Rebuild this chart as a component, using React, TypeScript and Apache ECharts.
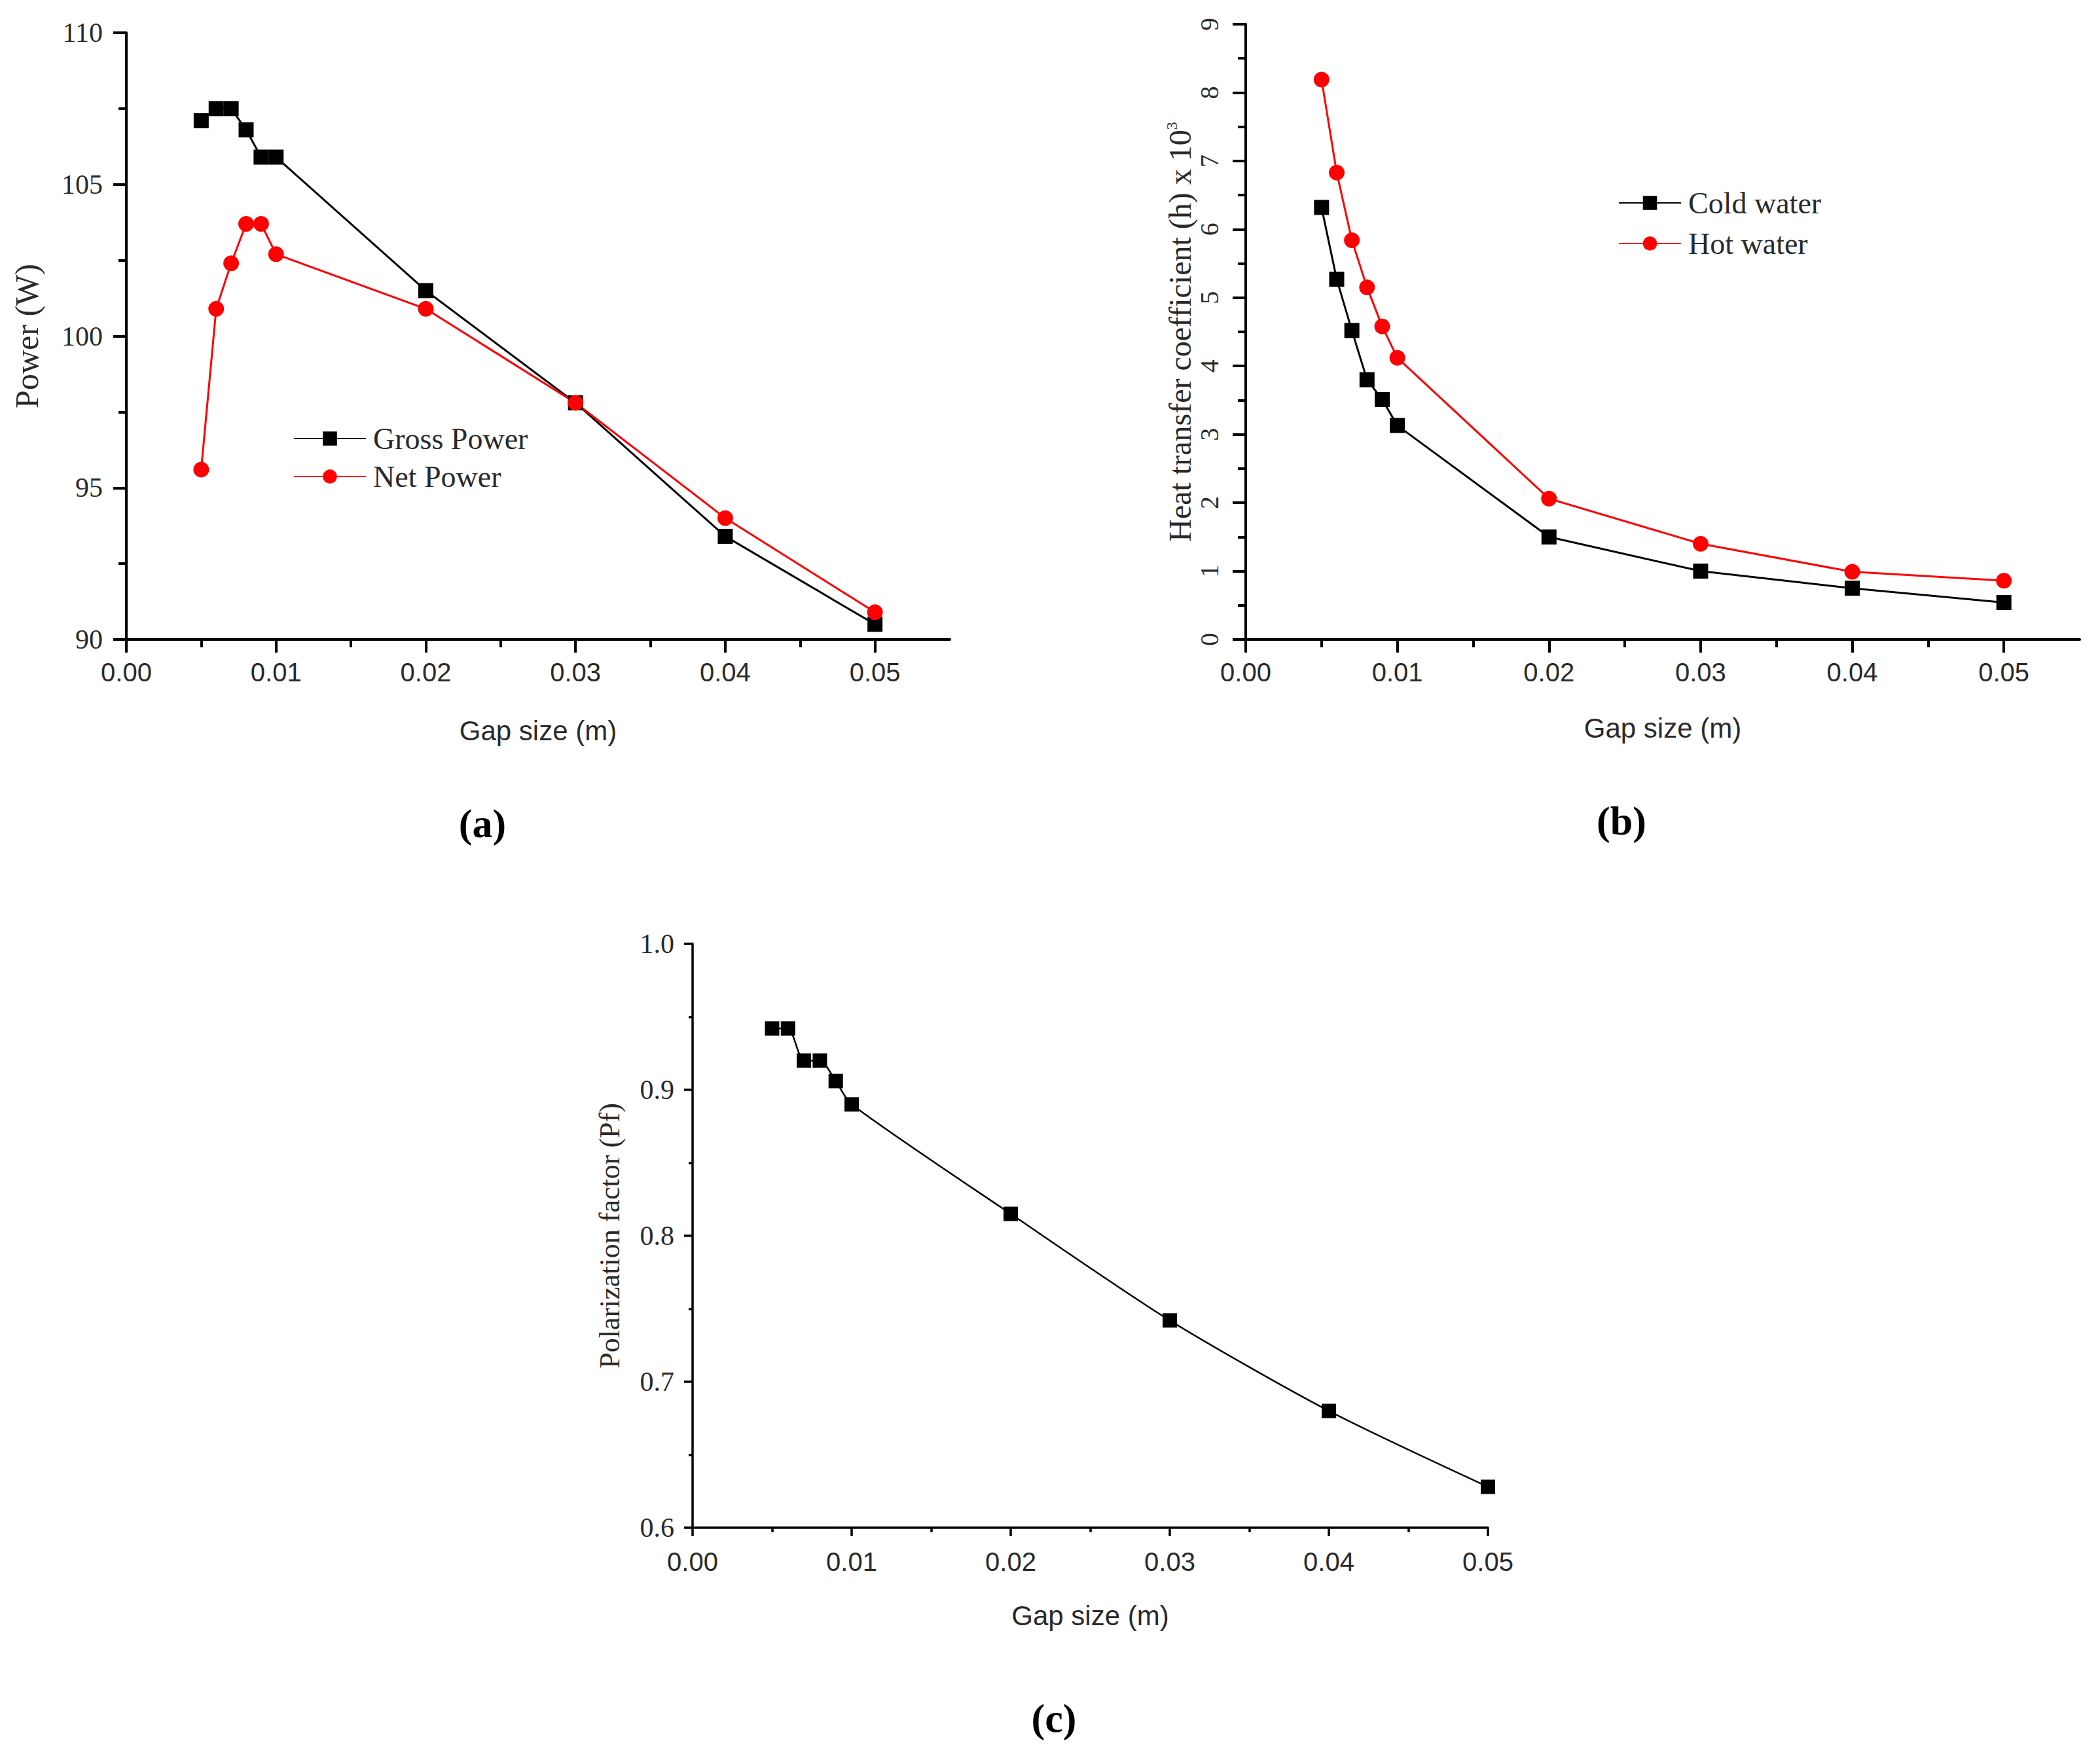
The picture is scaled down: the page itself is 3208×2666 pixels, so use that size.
import React, { useEffect, useRef } from "react";
import * as echarts from "echarts";

// ---------- data ----------
const gapSize = [0.005, 0.006, 0.007, 0.008, 0.009, 0.01, 0.02, 0.03, 0.04, 0.05];
const grossPower = [107.1, 107.5, 107.5, 106.8, 105.9, 105.9, 101.5, 97.8, 93.4, 90.5];
const netPower = [95.6, 100.9, 102.4, 103.7, 103.7, 102.7, 100.9, 97.8, 94.0, 90.9];
const coldWater = [6.32, 5.27, 4.52, 3.8, 3.51, 3.13, 1.5, 1.0, 0.75, 0.54];
const hotWater = [8.19, 6.83, 5.84, 5.15, 4.58, 4.12, 2.06, 1.4, 0.99, 0.86];
const polarization = [0.942, 0.942, 0.92, 0.92, 0.906, 0.89, 0.815, 0.742, 0.68, 0.628];

const xMajorTicks = [0, 0.01, 0.02, 0.03, 0.04, 0.05];
const xMinorTicks = [0.005, 0.015, 0.025, 0.035, 0.045];
const legendA = ["Gross Power", "Net Power"];
const legendB = ["Cold water", "Hot water"];

const SERIF = '"Liberation Serif", "Times New Roman", serif';
const SANS = '"Liberation Sans", Arial, sans-serif';
const TXT = "#2a2a2a";

const pairs = (ys: number[]) => gapSize.map((g, i) => [g, ys[i]]);

function lineAxis(width: number) {
  return { show: true, onZero: false, lineStyle: { color: "#000", width } };
}

function mainX(gridIndex: number, max: number, nameGap: number, tickLen: number, lw: number, margin: number) {
  return {
    type: "value",
    gridIndex,
    position: "bottom",
    min: 0,
    max,
    interval: 0.01,
    axisLine: lineAxis(lw),
    axisTick: { show: true, inside: false, length: tickLen, customValues: xMajorTicks, lineStyle: { color: "#000", width: lw } },
    axisLabel: {
      customValues: xMajorTicks,
      margin,
      fontSize: 40,
      fontFamily: SANS,
      color: TXT,
      formatter: (v: number) => (v > 0.0505 ? "" : v.toFixed(2)),
    },
    splitLine: { show: false },
    name: "Gap size (m)",
    nameLocation: "middle",
    nameGap,
    nameTextStyle: { fontSize: 42, fontFamily: SANS, color: TXT },
  };
}

function minorX(gridIndex: number, max: number, tickLen: number, lw: number) {
  return {
    type: "value",
    gridIndex,
    position: "bottom",
    min: 0,
    max,
    interval: 0.005,
    axisLine: { show: false, onZero: false },
    axisTick: { show: true, inside: false, length: tickLen, customValues: xMinorTicks, lineStyle: { color: "#000", width: lw } },
    axisLabel: { show: false },
    splitLine: { show: false },
  };
}

export default function App() {
  const ref = useRef<HTMLDivElement>(null);

  useEffect(() => {
    document.body.style.margin = "0";
    if (!ref.current) return;
    const chart = echarts.init(ref.current, undefined, { renderer: "svg" });

    const option: any = {
      animation: false,
      backgroundColor: "#fff",
      grid: [
        { left: 193, top: 50, width: 1258, height: 927, outerBoundsMode: "none" },
        { left: 1903, top: 37, width: 1274, height: 940, outerBoundsMode: "none" },
        { left: 1058, top: 1442, width: 1215, height: 892, outerBoundsMode: "none" },
      ],
      xAxis: [
        mainX(0, 0.055, 118, 20, 4, 30),
        minorX(0, 0.055, 12, 4),
        mainX(1, 0.055, 114, 20, 4, 30),
        minorX(1, 0.055, 12, 4),
        {
          type: "value",
          gridIndex: 2,
          position: "bottom",
          min: 0,
          max: 0.05,
          interval: 0.01,
          axisLine: lineAxis(3.5),
          axisTick: { show: true, length: 13, lineStyle: { color: "#000", width: 3.5 } },
          minorTick: { show: true, splitNumber: 2, length: 7, lineStyle: { color: "#000", width: 3.5 } },
          axisLabel: { margin: 32, fontSize: 40, fontFamily: SANS, color: TXT, formatter: (v: number) => v.toFixed(2) },
          splitLine: { show: false },
          minorSplitLine: { show: false },
          name: "Gap size (m)",
          nameLocation: "middle",
          nameGap: 113,
          nameTextStyle: { fontSize: 42, fontFamily: SANS, color: TXT },
        },
      ],
      yAxis: [
        {
          type: "value",
          gridIndex: 0,
          min: 90,
          max: 110,
          interval: 5,
          axisLine: lineAxis(4),
          axisTick: { show: true, length: 20, lineStyle: { color: "#000", width: 4 } },
          minorTick: { show: true, splitNumber: 2, length: 12, lineStyle: { color: "#000", width: 4 } },
          axisLabel: { margin: 36, fontSize: 42, fontFamily: SERIF, color: TXT },
          splitLine: { show: false },
          minorSplitLine: { show: false },
          name: "Power (W)",
          nameLocation: "middle",
          nameGap: 127,
          nameTextStyle: { fontSize: 50, fontFamily: SERIF, color: TXT },
        },
        {
          type: "value",
          gridIndex: 1,
          min: 0,
          max: 9,
          interval: 1,
          axisLine: lineAxis(4),
          axisTick: { show: true, length: 20, lineStyle: { color: "#000", width: 4 } },
          minorTick: { show: true, splitNumber: 2, length: 12, lineStyle: { color: "#000", width: 4 } },
          axisLabel: { margin: 36, rotate: 90, fontSize: 40, fontFamily: SERIF, color: TXT },
          splitLine: { show: false },
          minorSplitLine: { show: false },
          name: "Heat transfer coefficient (h) x 10{sup|3}",
          nameLocation: "middle",
          nameGap: 76,
          nameTextStyle: {
            fontSize: 48,
            fontFamily: SERIF,
            color: TXT,
            rich: { sup: { fontSize: 24, fontFamily: SERIF, color: TXT, verticalAlign: "top", lineHeight: 48 } },
          },
        },
        {
          type: "value",
          gridIndex: 2,
          min: 0.6,
          max: 1.0,
          interval: 0.1,
          axisLine: lineAxis(3.5),
          axisTick: { show: true, length: 13, lineStyle: { color: "#000", width: 3.5 } },
          minorTick: { show: true, splitNumber: 2, length: 6, lineStyle: { color: "#000", width: 3.5 } },
          axisLabel: { margin: 28, fontSize: 42, fontFamily: SERIF, color: TXT, formatter: (v: number) => v.toFixed(1) },
          splitLine: { show: false },
          minorSplitLine: { show: false },
          name: "Polarization factor (Pf)",
          nameLocation: "middle",
          nameGap: 105,
          nameTextStyle: { fontSize: 44, fontFamily: SERIF, color: TXT },
        },
      ],
      legend: [
        {
          data: legendA,
          orient: "vertical",
          left: 448,
          top: 647,
          padding: 0,
          itemWidth: 110,
          itemHeight: 27,
          itemGap: 12,
          selectedMode: false,
          textStyle: { fontSize: 46, fontFamily: SERIF, color: TXT, lineHeight: 46, padding: [0, 0, 0, 6] },
        },
        {
          data: legendB,
          orient: "vertical",
          left: 2472,
          top: 287,
          padding: 0,
          itemWidth: 95,
          itemHeight: 27,
          itemGap: 16,
          selectedMode: false,
          textStyle: { fontSize: 46, fontFamily: SERIF, color: TXT, lineHeight: 46, padding: [0, 0, 0, 6] },
        },
      ],
      graphic: [
        { type: "text", x: 737, y: 1258, style: { text: "(a)", font: `bold 62px ${SERIF}`, fill: "#000", align: "center", verticalAlign: "middle" } },
        { type: "text", x: 2477, y: 1254, style: { text: "(b)", font: `bold 62px ${SERIF}`, fill: "#000", align: "center", verticalAlign: "middle" } },
        { type: "text", x: 1610, y: 2625, style: { text: "(c)", font: `bold 62px ${SERIF}`, fill: "#000", align: "center", verticalAlign: "middle" } },
      ],
      series: [
        {
          name: "Gross Power",
          type: "line",
          xAxisIndex: 0,
          yAxisIndex: 0,
          data: pairs(grossPower),
          symbol: "rect",
          symbolSize: 23,
          color: "#000",
          lineStyle: { color: "#000", width: 3 },
          itemStyle: { color: "#000" },
        },
        {
          name: "Net Power",
          type: "line",
          xAxisIndex: 0,
          yAxisIndex: 0,
          data: pairs(netPower),
          symbol: "circle",
          symbolSize: 24,
          color: "#ff0000",
          lineStyle: { color: "#ff0000", width: 3 },
          itemStyle: { color: "#ff0000" },
        },
        {
          name: "Cold water",
          type: "line",
          xAxisIndex: 2,
          yAxisIndex: 1,
          data: pairs(coldWater),
          symbol: "rect",
          symbolSize: 23,
          color: "#000",
          lineStyle: { color: "#000", width: 3 },
          itemStyle: { color: "#000" },
        },
        {
          name: "Hot water",
          type: "line",
          xAxisIndex: 2,
          yAxisIndex: 1,
          data: pairs(hotWater),
          symbol: "circle",
          symbolSize: 24,
          color: "#ff0000",
          lineStyle: { color: "#ff0000", width: 3 },
          itemStyle: { color: "#ff0000" },
        },
        {
          name: "Polarization factor",
          type: "line",
          xAxisIndex: 4,
          yAxisIndex: 2,
          data: pairs(polarization),
          symbol: "rect",
          symbolSize: 22,
          smooth: 0.25,
          color: "#000",
          lineStyle: { color: "#000", width: 2.5 },
          itemStyle: { color: "#000" },
        },
      ],
    };

    chart.setOption(option);
    return () => chart.dispose();
  }, []);

  return (
    <div
      ref={ref}
      style={{ position: "absolute", left: 0, top: 0, width: 3208, height: 2666, background: "#fff" }}
    />
  );
}
